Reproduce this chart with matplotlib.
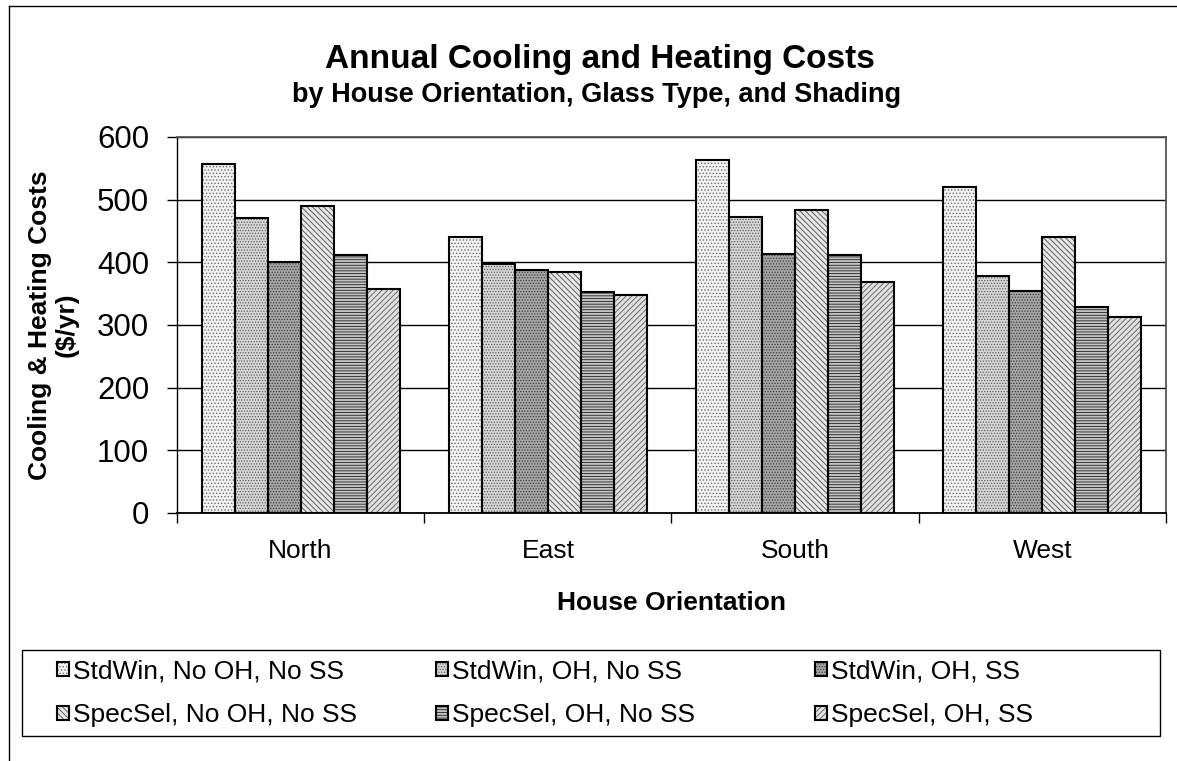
import numpy as np
import matplotlib
matplotlib.use("Agg")
import matplotlib.pyplot as plt
from matplotlib.lines import Line2D
from matplotlib.patches import Rectangle

plt.rcParams['font.family'] = ['Liberation Sans', 'DejaVu Sans']
plt.rcParams['hatch.linewidth'] = 0.6

# data ($/yr)
orientations = ["North", "East", "South", "West"]
series_names = ["StdWin, No OH, No SS", "StdWin, OH, No SS", "StdWin, OH, SS",
                "SpecSel, No OH, No SS", "SpecSel, OH, No SS", "SpecSel, OH, SS"]
std_nooh_noss = [557, 441, 563, 520]
std_oh_noss = [470, 398, 473, 378]
std_oh_ss = [401, 388, 414, 355]
spec_nooh_noss = [490, 385, 484, 441]
spec_oh_noss = [411, 352, 412, 329]
spec_oh_ss = [358, 348, 368, 312]
y_ticks = [0, 100, 200, 300, 400, 500, 600]

all_series = [std_nooh_noss, std_oh_noss, std_oh_ss,
              spec_nooh_noss, spec_oh_noss, spec_oh_ss]

# (face colour, hatch, hatch colour) roughly like the excel fill patterns
looks = [
    ('#f2f2f2', '.....', '#6e6e6e'),
    ('#d6d6d6', '......', '#5c5c5c'),
    ('#a6a6a6', '......', '#3c3c3c'),
    ('#e6e6e6', '\\\\\\\\\\\\', '#4c4c4c'),
    ('#c4c4c4', '------', '#1e1e1e'),
    ('#e0e0e0', '//////', '#5a5a5a'),
]

W, H = 1177, 761
fig = plt.figure(figsize=(W / 100, H / 100), dpi=100)
ax = fig.add_axes([177 / W, 1 - 513 / H, (1166 - 177) / W, (513 - 137) / H])

x = np.arange(len(orientations))
n = len(all_series)
width = 0.8 / n
handles = []
for i, (vals, (face, hatch, hcol)) in enumerate(zip(all_series, looks)):
    pos = x - 0.4 + width * (i + 0.5)
    fill = ax.bar(pos, vals, width, color=face, hatch=hatch, edgecolor=hcol,
                  linewidth=0, zorder=2)
    edge = ax.bar(pos, vals, width, fill=False, edgecolor='black',
                  linewidth=1.5, zorder=3)
    handles.append((fill, edge))

ax.set_xlim(-0.5, len(orientations) - 0.5)
ax.set_ylim(0, 600)
ax.set_yticks(y_ticks)
ax.set_yticklabels([str(v) for v in y_ticks], fontsize=22.5)
ax.yaxis.grid(True, color='black', linewidth=1.0, zorder=0)
ax.set_axisbelow(True)

ax.set_xticks(np.arange(-0.5, len(orientations), 1))
ax.set_xticklabels([])
ax.set_xticks(x, minor=True)
ax.set_xticklabels(orientations, minor=True, fontsize=19)
ax.tick_params(axis='x', which='major', length=7, width=1, color='black')
ax.tick_params(axis='x', which='minor', length=0, pad=19)
ax.tick_params(axis='y', length=7, width=1, pad=13)

for s in ['top', 'right']:
    ax.spines[s].set_color('#555555')
    ax.spines[s].set_linewidth(1.3)
ax.spines['left'].set_linewidth(1.0)
ax.spines['bottom'].set_linewidth(1.3)

ax.set_xlabel("House Orientation", fontsize=19, fontweight='bold')
ax.xaxis.set_label_coords(0.5, -0.207)

fig.text(53 / W, 1 - 325 / H, "Cooling & Heating Costs\n($/yr)", rotation=90,
         ha='center', va='center', fontsize=19, fontweight='bold',
         multialignment='center', linespacing=1.15)

fig.text(600 / W, 1 - 68 / H, "Annual Cooling and Heating Costs",
         ha='center', va='baseline', fontsize=24, fontweight='bold')
fig.text(597 / W, 1 - 102 / H, "by House Orientation, Glass Type, and Shading",
         ha='center', va='baseline', fontsize=19.5, fontweight='bold')

# legend: excel style, 3 evenly spaced columns inside one box
col_x = [57, 436, 815]
for c in range(3):
    leg = fig.legend([handles[c], handles[c + 3]],
                     [series_names[c], series_names[c + 3]],
                     loc='upper left', bbox_to_anchor=(col_x[c] / W, 1 - 659 / H),
                     frameon=False, fontsize=19, borderpad=0, borderaxespad=0,
                     handlelength=0.45, handleheight=0.45, handletextpad=0.15,
                     labelspacing=0.76)
fig.add_artist(Rectangle((22 / W, 1 - 736 / H), (1160 - 22) / W, 86 / H,
                         transform=fig.transFigure, fill=False,
                         edgecolor='black', linewidth=1.0))

# chart area border (left and top edges show in the picture)
fig.add_artist(Line2D([9 / W, 9 / W], [0, 1 - 6 / H], transform=fig.transFigure,
                      color='black', linewidth=1.0))
fig.add_artist(Line2D([9 / W, 1], [1 - 6 / H, 1 - 6 / H], transform=fig.transFigure,
                      color='black', linewidth=1.0))

fig.savefig("out.png", dpi=100)
